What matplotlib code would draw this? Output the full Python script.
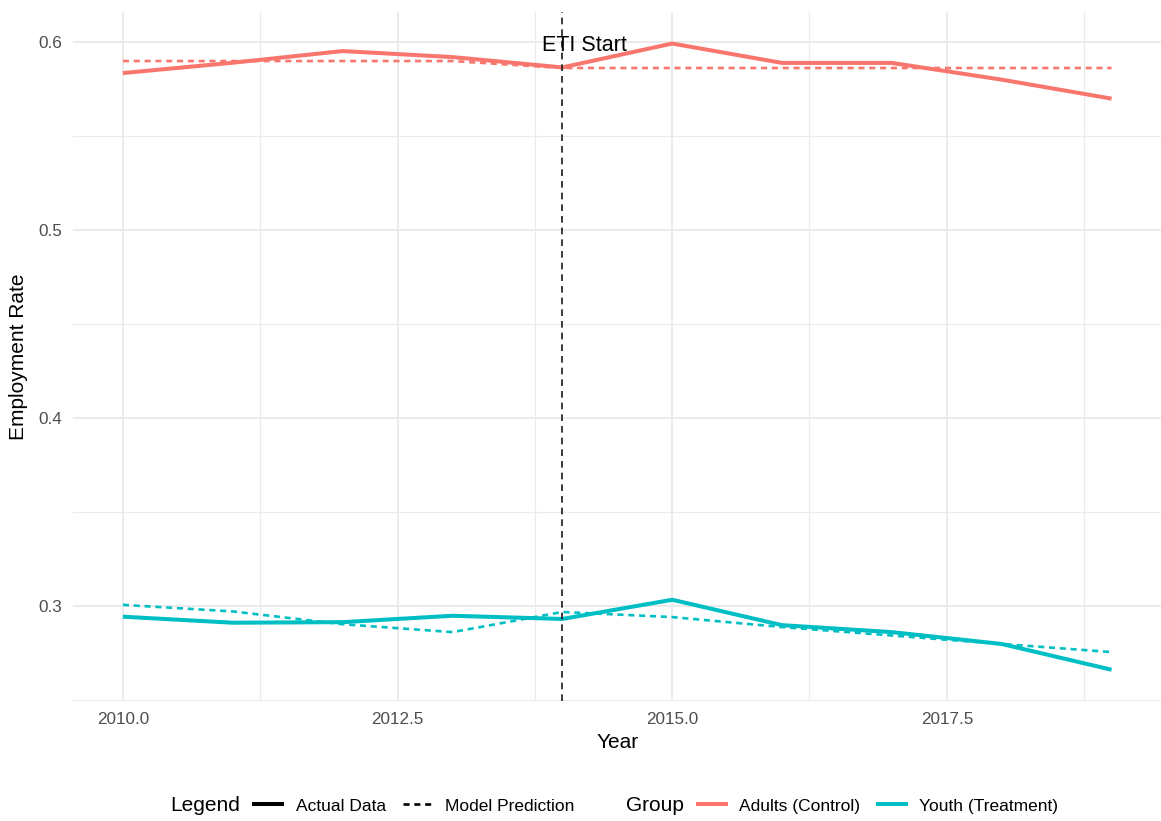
import matplotlib
matplotlib.use('Agg')
import matplotlib.pyplot as plt
from matplotlib.lines import Line2D
from matplotlib.ticker import FixedLocator, FormatStrFormatter

plt.rcParams['font.family'] = ['Liberation Sans', 'DejaVu Sans']

# data
years = [2010, 2011, 2012, 2013, 2014, 2015, 2016, 2017, 2018, 2019]
adults_actual = [0.5835, 0.5890, 0.5952, 0.5920, 0.5865, 0.5992, 0.5889, 0.5889, 0.5800, 0.5699]
adults_pred = [0.5899, 0.5899, 0.5899, 0.5899, 0.5862, 0.5862, 0.5862, 0.5862, 0.5862, 0.5862]
youth_actual = [0.2945, 0.2913, 0.2916, 0.2950, 0.2933, 0.3035, 0.2900, 0.2863, 0.2800, 0.2663]
youth_pred = [0.3008, 0.2973, 0.2905, 0.2863, 0.2970, 0.2943, 0.2890, 0.2845, 0.2800, 0.2757]
eti_year = 2014

x_major = [2010, 2012.5, 2015, 2017.5]
x_minor = [2011.25, 2013.75, 2016.25, 2018.75]
y_major = [0.3, 0.4, 0.5, 0.6]
y_minor = [0.25, 0.35, 0.45, 0.55]

red = '#F8766D'
cyan = '#00BFC4'
pred_dash = (0, (2.3, 1.8))

fig = plt.figure(figsize=(11.61, 8.21), dpi=100)
ax = fig.add_axes([0.0633, 0.1462, 0.9367, 0.8388])

# actual lines first, model predictions on top
ax.plot(years, adults_actual, color=red, lw=2.9, solid_capstyle='butt', zorder=3)
ax.plot(years, youth_actual, color=cyan, lw=2.9, solid_capstyle='butt', zorder=3)
ax.plot(years, adults_pred, color=red, lw=1.9, linestyle=pred_dash, zorder=4)
ax.plot(years, youth_pred, color=cyan, lw=1.9, linestyle=pred_dash, zorder=4)

ax.axvline(eti_year, color='#1a1a1a', lw=1.2, linestyle=(0, (4, 3)), zorder=5)
ax.text(eti_year + 0.2, 0.5984, 'ETI Start', ha='center', va='center', fontsize=15.5, color='black', zorder=6)

ax.set_xlim(2009.55, 2019.45)
ax.set_ylim(0.2497, 0.6158)

ax.xaxis.set_major_locator(FixedLocator(x_major))
ax.xaxis.set_minor_locator(FixedLocator(x_minor))
ax.yaxis.set_major_locator(FixedLocator(y_major))
ax.yaxis.set_minor_locator(FixedLocator(y_minor))
ax.xaxis.set_major_formatter(FormatStrFormatter('%.1f'))
ax.yaxis.set_major_formatter(FormatStrFormatter('%.1f'))

ax.grid(which='major', color='#EBEBEB', lw=1.4)
ax.grid(which='minor', color='#EBEBEB', lw=0.9)
ax.set_axisbelow(True)
for s in ax.spines.values():
    s.set_visible(False)
ax.tick_params(which='both', length=0)
ax.tick_params(which='major', labelsize=12.3, labelcolor='#4D4D4D', pad=8)

ax.set_xlabel('Year', fontsize=15, va='center')
ax.xaxis.set_label_coords(0.5, -0.061)
ax.set_ylabel('Employment Rate', fontsize=15, va='center')
ax.yaxis.set_label_coords(-0.051, 0.5)

# bottom legends, ggplot style with titles on the left
leg_y = 0.0183
fig.text(0.1464, leg_y, 'Legend', fontsize=15, va='center', ha='left')
h1 = [Line2D([], [], color='black', lw=2.9),
      Line2D([], [], color='black', lw=1.9, linestyle=(0, (2.3, 1.8)))]
leg1 = fig.legend(h1, ['Actual Data', 'Model Prediction'], loc='center left',
                  bbox_to_anchor=(0.2188, leg_y), ncol=2, frameon=False, fontsize=12.5,
                  borderpad=0, borderaxespad=0, handlelength=1.64, handletextpad=0.76,
                  columnspacing=1.0)

fig.text(0.539, leg_y, 'Group', fontsize=15, va='center', ha='left')
h2 = [Line2D([], [], color=red, lw=2.9),
      Line2D([], [], color=cyan, lw=2.9)]
leg2 = fig.legend(h2, ['Adults (Control)', 'Youth (Treatment)'], loc='center left',
                  bbox_to_anchor=(0.601, leg_y), ncol=2, frameon=False, fontsize=12.5,
                  borderpad=0, borderaxespad=0, handlelength=1.64, handletextpad=0.76,
                  columnspacing=1.0)

fig.savefig('out.png', dpi=100)
